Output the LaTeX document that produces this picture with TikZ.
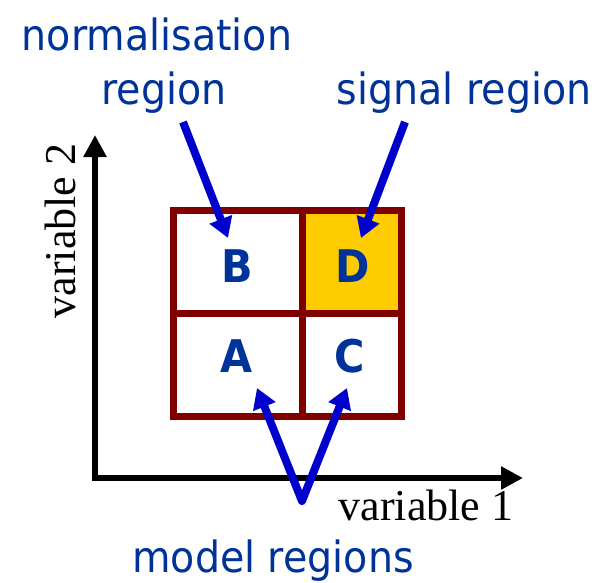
\documentclass[tikz,border=0pt]{standalone}
\usepackage{fontspec}
\usetikzlibrary{arrows.meta}
\newfontfamily\labfont[FakeStretch=0.92]{DejaVu Sans}
\newfontfamily\serfont{Liberation Serif}
\definecolor{txtblue}{RGB}{0,51,153}
\definecolor{arrblue}{RGB}{0,0,204}
\definecolor{framered}{RGB}{128,0,0}
\definecolor{sigyellow}{RGB}{255,204,0}
\begin{document}
\begin{tikzpicture}[x=1pt,y=-1pt,
  lbl/.style={font=\labfont\fontsize{43}{50}\selectfont, text=txtblue, inner sep=0pt, anchor=base},
  letter/.style={font=\labfont\bfseries\fontsize{45}{50}\selectfont, text=txtblue, inner sep=0pt, anchor=base},
  axlbl/.style={font=\serfont\fontsize{44}{50}\selectfont, inner sep=0pt, anchor=base},
  pointer/.style={draw=arrblue, line width=8pt, -{Triangle[length=20pt,width=23pt]}},
  twopointer/.style={draw=arrblue, line width=8pt, line join=round, {Triangle[length=20pt,width=23pt]}-{Triangle[length=20pt,width=23pt]}},
  axisline/.style={line width=5.5pt, line join=miter, {Triangle[length=22pt,width=22pt]}-{Triangle[length=22pt,width=22pt]}},
  gridline/.style={draw=framered, line width=7pt}]
\useasboundingbox (0,0) rectangle (603,582);

% axes
\coordinate (O) at (95,478);
\coordinate (yend) at (95,135);
\coordinate (xend) at (523,478);
\draw[axisline] (yend) -- (O) -- (xend);
\node[axlbl] (v1) at (426,520) {variable 1};
\node[axlbl, rotate=90] (v2) at (75,231) {variable 2};

% regions
\fill[sigyellow] (302,210) rectangle (401,313);
\draw[gridline] (173,210) rectangle (401,416);
\draw[gridline] (302,210) -- (302,416);
\draw[gridline] (173,313) -- (401,313);

\node[letter] (B) at (237,282) {B};
\node[letter] (D) at (353,282) {D};
\node[letter] (A) at (237,372) {A};
\node[letter] (C) at (350,372) {C};

% labels
\node[lbl] (norm) at (157,50) {normalisation};
\node[lbl] (normreg) at (164,104) {region};
\node[lbl] (sigreg) at (464,104) {signal region};
\node[lbl] (model) at (273,572) {model regions};

% pointers
\coordinate (nstart) at (183,122);
\coordinate (ntip) at (228,238);
\coordinate (sstart) at (405,122);
\coordinate (stip) at (361,238);
\coordinate (atip) at (257,388);
\coordinate (ctip) at (347,388);
\coordinate (mv) at (302,501);
\draw[pointer] (nstart) -- (ntip);
\draw[pointer] (sstart) -- (stip);
\draw[twopointer] (atip) -- (mv) -- (ctip);
\end{tikzpicture}
\end{document}
